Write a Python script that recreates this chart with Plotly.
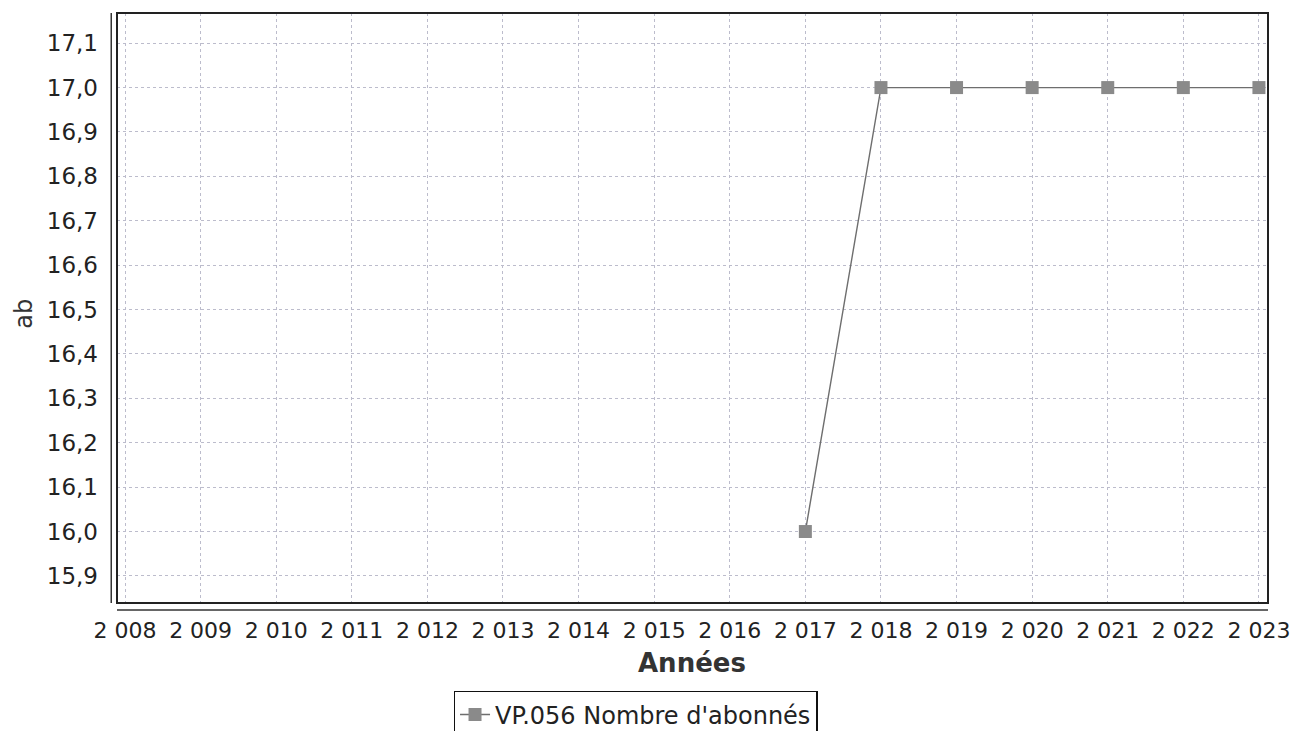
import plotly.graph_objects as go

years = [2017, 2018, 2019, 2020, 2021, 2022, 2023]
values = [16.0, 17.0, 17.0, 17.0, 17.0, 17.0, 17.0]
series_name = "VP.056 Nombre d'abonnés"
x_ticks = list(range(2008, 2024))
x_tick_labels = ["2 008", "2 009", "2 010", "2 011", "2 012", "2 013", "2 014", "2 015",
                 "2 016", "2 017", "2 018", "2 019", "2 020", "2 021", "2 022", "2 023"]
y_ticks = [15.9, 16.0, 16.1, 16.2, 16.3, 16.4, 16.5, 16.6, 16.7, 16.8, 16.9, 17.0, 17.1]
y_tick_labels = ["15,9", "16,0", "16,1", "16,2", "16,3", "16,4", "16,5", "16,6",
                 "16,7", "16,8", "16,9", "17,0", "17,1"]
x_title = "Années"
y_title = "ab"

FONT = "DejaVu Sans"
grid_col = "#bcbccc"
txt_col = "#222222"

fig = go.Figure()
fig.add_trace(go.Scatter(
    x=years, y=values, mode="lines+markers", name=series_name,
    line=dict(color="#6e6e6e", width=1.4),
    marker=dict(symbol="square", size=13, color="#8a8a8a"),
))

fig.update_layout(
    width=1308, height=731,
    paper_bgcolor="white", plot_bgcolor="white",
    margin=dict(l=109, r=48, t=5, b=136, autoexpand=False),
    font=dict(family=FONT, size=20, color=txt_col),
    showlegend=True,
    legend=dict(
        orientation="h", x=0.4505, xanchor="center", y=-0.149, yanchor="top",
        bordercolor="#111111", borderwidth=1.5, bgcolor="white",
        font=dict(family=FONT, size=24, color=txt_col),
        itemwidth=30, tracegroupgap=0,
    ),
    xaxis=dict(
        range=[2007.894, 2023.12], tickmode="array", tickvals=x_ticks, ticktext=x_tick_labels,
        showgrid=True, gridcolor=grid_col, griddash="3px,3px", gridwidth=1,
        zeroline=False, showline=False, automargin=False,
        ticks="", ticklen=0, ticklabelstandoff=12,
        tickfont=dict(family=FONT, size=22, color=txt_col),
    ),
    yaxis=dict(
        range=[15.839, 17.168], tickmode="array", tickvals=y_ticks, ticktext=y_tick_labels,
        showgrid=True, gridcolor=grid_col, griddash="3px,3px", gridwidth=1,
        zeroline=False, showline=False, automargin=False,
        ticks="", ticklen=0, ticklabelstandoff=18,
        tickfont=dict(family=FONT, size=23, color=txt_col),
    ),
    annotations=[
        dict(text="<b>%s</b>" % x_title, xref="paper", yref="paper", x=0.4995, y=-0.102,
             xanchor="center", yanchor="middle", showarrow=False,
             font=dict(family=FONT, size=26, color="#333333")),
        dict(text=y_title, xref="paper", yref="paper", x=-0.081, y=0.49,
             xanchor="center", yanchor="middle", showarrow=False, textangle=-90,
             font=dict(family=FONT, size=24, color="#333333")),
    ],
)

# plot border
fig.add_shape(type="rect", xref="paper", yref="paper", x0=0, y0=0, x1=1, y1=1,
              line=dict(color="#222222", width=2), fillcolor="rgba(0,0,0,0)", layer="above")
# offset axis lines (JFreeChart style)
fig.add_shape(type="line", xref="paper", yref="paper", x0=-0.005, x1=-0.005, y0=0, y1=1,
              line=dict(color="#333333", width=1.5))
fig.add_shape(type="line", xref="paper", yref="paper", x0=0, x1=1, y0=-0.012, y1=-0.012,
              line=dict(color="#333333", width=1.5))

fig.write_html("out.html")
